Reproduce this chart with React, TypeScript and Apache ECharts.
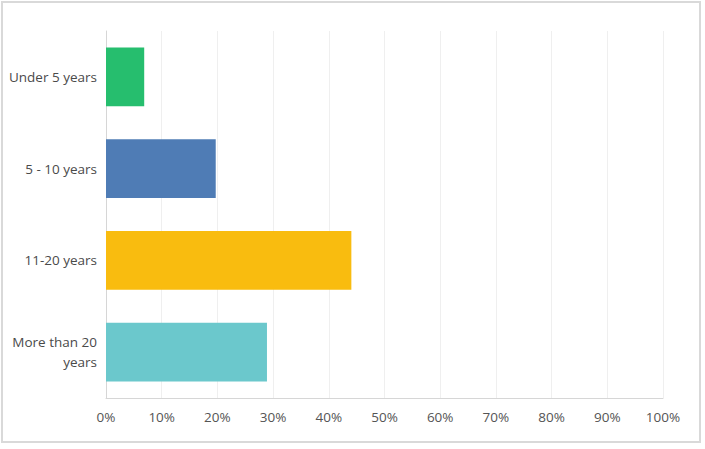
import React, { useEffect, useRef } from "react";
import * as echarts from "echarts";

const categories = ["Under 5 years", "5 - 10 years", "11-20 years", "More than 20 years"];
const values = [6.86, 19.7, 44.05, 28.9];
const colors = ["#26BE6E", "#4F7CB5", "#F9BC0F", "#6BC8CC"];
const xTicks = [0, 10, 20, 30, 40, 50, 60, 70, 80, 90, 100];

export default function App() {
  const ref = useRef<HTMLDivElement>(null);
  useEffect(() => {
    if (!ref.current) return;
    const chart = echarts.init(ref.current, null, { renderer: "svg" });
    chart.setOption({
      animation: false,
      backgroundColor: "#ffffff",
      textStyle: { fontFamily: "Open Sans" },
      graphic: [
        {
          type: "rect",
          shape: { x: 2, y: 2, width: 698, height: 440 },
          style: { fill: "none", stroke: "#d9d9d9", lineWidth: 2 },
          silent: true,
        },
      ],
      grid: { left: 106, right: 42, top: 31, bottom: 51, containLabel: false },
      xAxis: {
        type: "value",
        min: xTicks[0],
        max: xTicks[xTicks.length - 1],
        interval: 10,
        axisLine: { show: true, lineStyle: { color: "#d6d6d6", width: 1 } },
        axisTick: { show: false },
        splitLine: { show: true, lineStyle: { color: "#efefef", width: 1 } },
        axisLabel: {
          formatter: (v: number) => v + "%",
          color: "#555555",
          fontSize: 13.5,
          margin: 12,
        },
      },
      yAxis: {
        type: "category",
        data: categories,
        inverse: true,
        axisLine: { show: true, lineStyle: { color: "#d6d6d6", width: 1 } },
        axisTick: { show: false },
        splitLine: { show: false },
        axisLabel: {
          color: "#4a4a4a",
          fontSize: 13.5,
          margin: 9,
          lineHeight: 20,
          align: "right",
          formatter: (v: string) => (v === "More than 20 years" ? "More than 20\nyears" : v),
        },
      },
      series: [
        {
          type: "bar",
          data: values.map((v, i) => ({ value: v, itemStyle: { color: colors[i] } })),
          barWidth: "64%",
        },
      ],
    });
    return () => chart.dispose();
  }, []);
  return (
    <div
      ref={ref}
      style={{ position: "absolute", left: 0, top: 0, width: 705, height: 449 }}
    />
  );
}
